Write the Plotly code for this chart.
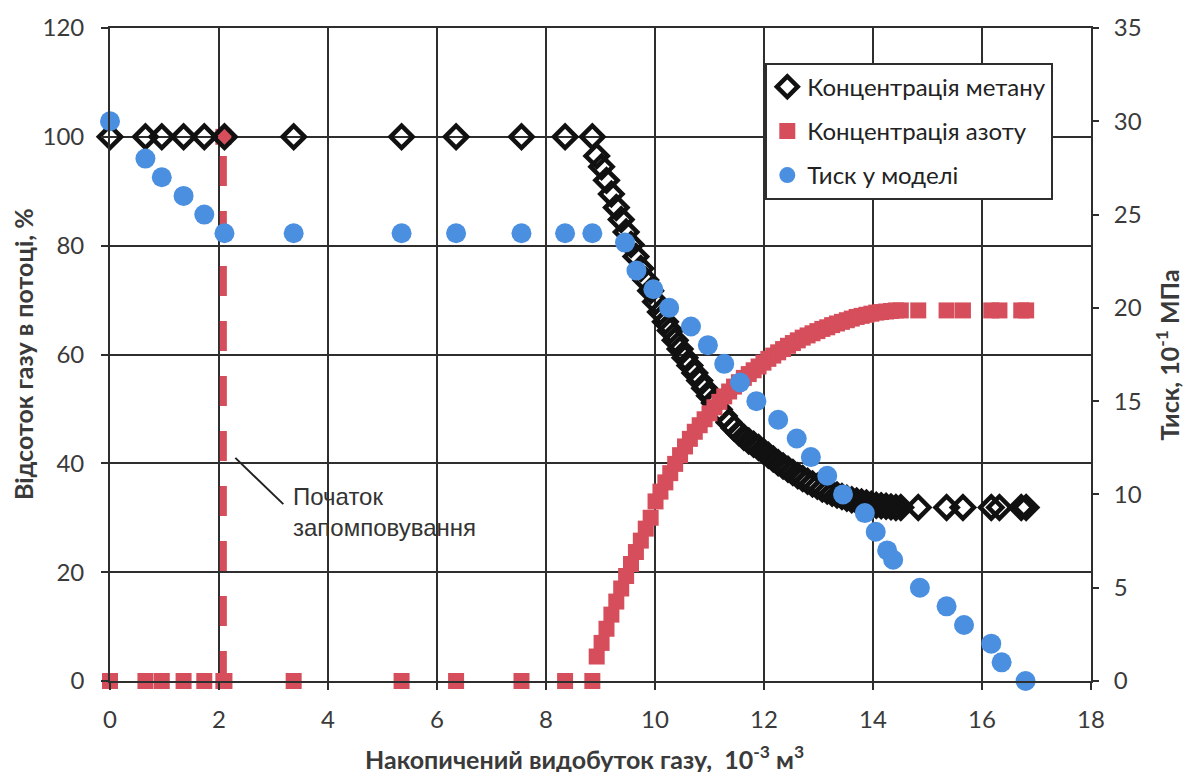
import plotly.graph_objects as go

# Cumulative gas production, 10^-3 m3 (shared by the two concentration series)
x_early = [0, 0.65, 0.95, 1.35, 1.73, 2.1, 3.37, 5.35, 6.35, 7.55, 8.35, 8.85]
x_break = [8.93, 9.02, 9.11, 9.2, 9.29, 9.38, 9.47, 9.56, 9.65, 9.74,
           9.83, 9.92, 10.01, 10.1, 10.19, 10.28, 10.37, 10.46, 10.55, 10.64,
           10.73, 10.82, 10.91, 11.0, 11.09, 11.18, 11.27, 11.36, 11.45, 11.54,
           11.63, 11.72, 11.81, 11.9, 11.99, 12.08, 12.17, 12.26, 12.35, 12.44,
           12.53, 12.62, 12.71, 12.8, 12.89, 12.98, 13.07, 13.16, 13.25, 13.34,
           13.43, 13.52, 13.61, 13.7, 13.79, 13.88, 13.97, 14.06, 14.15, 14.24,
           14.33, 14.42, 14.51]
x_late = [14.83, 15.35, 15.65, 16.17, 16.32, 16.72, 16.81]

# Methane concentration in the flow, %
methane_early = [100, 100, 100, 100, 100, 100, 100, 100, 100, 100, 100, 100]
methane_break = [96.5, 94.5, 92.0, 89.5, 87.0, 84.8, 82.5, 80.2, 78.0, 75.8,
                 73.7, 71.7, 69.7, 67.8, 66.0, 64.4, 62.6, 61.0, 59.4, 58.0,
                 56.6, 55.2, 53.8, 52.4, 51.1, 49.9, 48.7, 47.5, 46.5, 45.6,
                 44.8, 44.1, 43.5, 42.9, 42.2, 41.5, 40.8, 40.1, 39.5, 38.9,
                 38.3, 37.7, 37.2, 36.7, 36.2, 35.8, 35.3, 34.9, 34.5, 34.2,
                 33.9, 33.6, 33.3, 33.1, 32.9, 32.7, 32.5, 32.3, 32.2, 32.1,
                 32.0, 31.9, 31.9]
methane_late = [31.9, 31.9, 31.9, 31.9, 31.9, 31.9, 31.9]

# Nitrogen concentration in the flow, %
nitrogen_early = [0, 0, 0, 0, 0, 0, 0, 0, 0, 0, 0, 0]
nitrogen_break = [4.5, 7.0, 9.6, 12.2, 14.6, 17.0, 19.3, 21.5, 23.7, 25.8,
                  28.0, 30.0, 33.0, 34.8, 36.5, 38.2, 39.9, 41.5, 43.1, 44.5,
                  45.8, 47.0, 48.1, 49.2, 50.3, 51.3, 52.3, 53.2, 54.1, 54.9,
                  55.7, 56.4, 57.1, 57.8, 58.5, 59.2, 59.8, 60.4, 61.0, 61.6,
                  62.1, 62.6, 63.1, 63.5, 63.9, 64.3, 64.7, 65.0, 65.4, 65.7,
                  66.0, 66.3, 66.6, 66.9, 67.1, 67.3, 67.5, 67.7, 67.8, 67.9,
                  68.0, 68.1, 68.1]
nitrogen_late = [68.1, 68.1, 68.1, 68.1, 68.1, 68.1, 68.1]

# Model pressure, 10^-1 MPa
x_pressure = [0, 0.65, 0.95, 1.35, 1.73, 2.1, 3.37, 5.35, 6.35, 7.55, 8.35, 8.85,
              9.45, 9.66, 9.97, 10.26, 10.66, 10.97, 11.27, 11.56, 11.86, 12.26,
              12.6, 12.86, 13.16, 13.45, 13.85, 14.05, 14.26, 14.37, 14.86, 15.35,
              15.67, 16.17, 16.36, 16.8]
pressure = [30, 28, 27, 26, 25, 24, 24, 24, 24, 24, 24, 24,
            23.5, 22, 21, 20, 19, 18, 17, 16, 15, 14,
            13, 12, 11, 10, 9, 8, 7, 6.5, 5, 4,
            3, 2, 1, 0]

# Start of nitrogen injection
injection_x = [2.08, 2.08]
injection_y = [0, 100]

x_conc = x_early + x_break + x_late
methane = methane_early + methane_break + methane_late
nitrogen = nitrogen_early + nitrogen_break + nitrogen_late

RED = "#D64E5B"
BLUE = "#4A8FE0"
GRID = "#2E2E2E"
TXT = "#3A3A3A"
FONT = "Lato, 'Open Sans', sans-serif"

fig = go.Figure()

fig.add_trace(go.Scatter(
    x=injection_x, y=injection_y, mode="lines+markers", showlegend=False,
    line=dict(color=RED, width=7, dash="30px,25px"),
    marker=dict(symbol="square", size=16, color=RED),
    cliponaxis=False, hoverinfo="skip"))

fig.add_trace(go.Scatter(
    x=x_conc, y=methane, mode="markers", name="Концентрація метану",
    marker=dict(symbol="diamond-open", size=17, color="#111111",
                line=dict(width=4.5, color="#111111")),
    cliponaxis=False))

fig.add_trace(go.Scatter(
    x=x_conc, y=nitrogen, mode="markers", name="Концентрація азоту",
    marker=dict(symbol="square", size=16, color=RED),
    cliponaxis=False))

fig.add_trace(go.Scatter(
    x=x_pressure, y=pressure, mode="markers", name="Тиск у моделі",
    marker=dict(symbol="circle", size=20, color=BLUE),
    yaxis="y2", cliponaxis=False))

axis_common = dict(
    showgrid=True, gridcolor=GRID, gridwidth=1.8, zeroline=False,
    showline=True, linecolor=GRID, linewidth=1.8,
    ticks="outside", ticklen=7, tickcolor=GRID, tickwidth=1.8,
    tickfont=dict(family=FONT, size=24, color=TXT),
)

fig.update_layout(
    width=1193, height=772,
    margin=dict(l=110, r=102, t=21, b=91),
    paper_bgcolor="white", plot_bgcolor="white",
    xaxis=dict(range=[0, 18], dtick=2, mirror=True, ticklabelstandoff=9,
               **axis_common),
    yaxis=dict(range=[0, 120], dtick=20, mirror=True, ticklabelstandoff=12,
               **axis_common),
    yaxis2=dict(range=[0, 35], dtick=5, overlaying="y", side="right",
                showgrid=False, zeroline=False, showline=False,
                ticks="outside", ticklen=7, tickcolor=GRID, tickwidth=1.8,
                ticklabelstandoff=10,
                tickfont=dict(family=FONT, size=24, color=TXT)),
    legend=dict(
        x=0.668, y=0.947, xanchor="left", yanchor="top",
        bgcolor="white", bordercolor=GRID, borderwidth=2,
        font=dict(family=FONT, size=24, color="#222222"),
        tracegroupgap=10, itemsizing="trace",
    ),
    showlegend=True,
)

for i, tr in enumerate(fig.data):
    tr.legendgroup = f"g{i}"

# Axis titles
fig.add_annotation(
    text="<b>Відсоток газу в потоці, %</b>", xref="paper", yref="paper",
    x=-0.0891, y=0.5, xanchor="center", yanchor="middle", textangle=-90,
    showarrow=False, font=dict(family=FONT, size=25, color=TXT))
fig.add_annotation(
    text="<b>Тиск, 10<sup>-1</sup> МПа</b>", xref="paper", yref="paper",
    x=1.0784, y=0.5, xanchor="center", yanchor="middle", textangle=-90,
    showarrow=False, font=dict(family=FONT, size=25, color=TXT))
fig.add_annotation(
    text="<b>Накопичений видобуток газу,  10<sup>-3</sup> м<sup>3</sup></b>",
    xref="paper", yref="paper", x=0.484, y=-0.1167,
    xanchor="center", yanchor="middle", showarrow=False,
    font=dict(family=FONT, size=25, color=TXT))

# Injection start label with leader line
fig.add_shape(type="line", x0=2.30, y0=41.0, x1=3.18, y1=32.5,
              line=dict(color="#222222", width=2))
fig.add_annotation(
    text="Початок<br>запомповування", x=3.33, y=31.0, xanchor="left",
    yanchor="middle", align="left", showarrow=False,
    font=dict(family="Liberation Sans, Arial, sans-serif", size=24,
              color="#333333"))

fig.write_html("out.html")
